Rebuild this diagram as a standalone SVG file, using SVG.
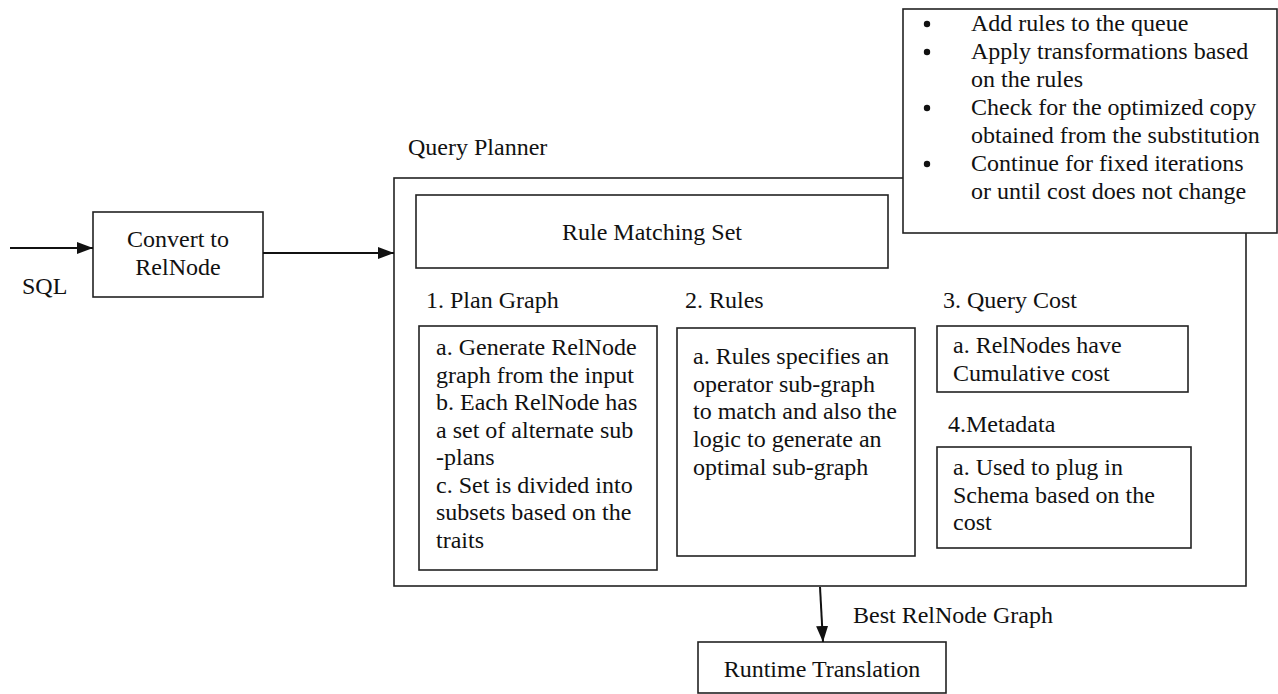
<svg xmlns="http://www.w3.org/2000/svg" width="1278" height="694" viewBox="0 0 1278 694">
<style>
  .box { fill: #fff; stroke: #222; stroke-width: 1.6; }
  .line { stroke: #111; stroke-width: 2; fill: none; }
</style>
<defs>
  <marker id="arr" markerWidth="16" markerHeight="12" refX="16" refY="6" orient="auto" markerUnits="userSpaceOnUse">
    <path d="M0,0 L16,6 L0,12 Z" fill="#111"/>
  </marker>
</defs>
<rect width="1278" height="694" fill="#fff"/>
<g font-family="Liberation Serif, Times New Roman, serif" font-size="24" fill="#111">

<g id="query-planner">
  <text x="408" y="155">Query Planner</text>
  <rect class="box" x="394" y="178" width="852" height="408"/>
</g>

<g id="bullets-box">
  <rect class="box" x="903" y="9" width="374" height="224"/>
  <circle cx="927" cy="24" r="3.2" fill="#111"/>
  <circle cx="927" cy="52" r="3.2" fill="#111"/>
  <circle cx="927" cy="108" r="3.2" fill="#111"/>
  <circle cx="927" cy="164" r="3.2" fill="#111"/>
  <text x="971" y="31">Add rules to the queue</text>
  <text x="971" y="59">Apply transformations based</text>
  <text x="971" y="87">on the rules</text>
  <text x="971" y="115">Check for the optimized copy</text>
  <text x="971" y="143">obtained from the substitution</text>
  <text x="971" y="171">Continue for fixed iterations</text>
  <text x="971" y="199">or until cost does not change</text>
</g>

<g id="convert">
  <rect class="box" x="93" y="212" width="170" height="85"/>
  <text text-anchor="middle" x="178" y="247">Convert to</text>
  <text text-anchor="middle" x="178" y="275">RelNode</text>
</g>

<g id="sql-label">
  <text x="22" y="294">SQL</text>
</g>

<g id="rule-matching">
  <rect class="box" x="416" y="195" width="472" height="73"/>
  <text text-anchor="middle" x="652" y="240">Rule Matching Set</text>
</g>

<g id="plan-graph">
  <text x="426" y="308">1. Plan Graph</text>
  <rect class="box" x="419" y="326" width="238" height="244"/>
  <text x="436" y="355">a. Generate RelNode</text>
  <text x="436" y="383">graph from the input</text>
  <text x="436" y="410">b. Each RelNode has</text>
  <text x="436" y="438">a set of alternate sub</text>
  <text x="436" y="465">-plans</text>
  <text x="436" y="493">c. Set is divided into</text>
  <text x="436" y="520">subsets based on the</text>
  <text x="436" y="548">traits</text>
</g>

<g id="rules">
  <text x="685" y="308">2. Rules</text>
  <rect class="box" x="677" y="328" width="238" height="228"/>
  <text x="693" y="364">a. Rules specifies an</text>
  <text x="693" y="392">operator sub-graph</text>
  <text x="693" y="419">to match and also the</text>
  <text x="693" y="447">logic to generate an</text>
  <text x="693" y="475">optimal sub-graph</text>
</g>

<g id="query-cost">
  <text x="943" y="308">3. Query Cost</text>
  <rect class="box" x="937" y="326" width="251" height="66"/>
  <text x="953" y="353">a. RelNodes have</text>
  <text x="953" y="381">Cumulative cost</text>
</g>

<g id="metadata">
  <text x="948" y="432">4.Metadata</text>
  <rect class="box" x="937" y="447" width="254" height="101"/>
  <text x="953" y="475">a. Used to plug in</text>
  <text x="953" y="503">Schema based on the</text>
  <text x="953" y="530">cost</text>
</g>

<g id="runtime">
  <rect class="box" x="698" y="642" width="248" height="51"/>
  <text text-anchor="middle" x="822" y="677">Runtime Translation</text>
</g>

<g id="connectors">
  <line class="line" x1="10" y1="248" x2="93" y2="248" marker-end="url(#arr)"/>
  <line class="line" x1="263" y1="253" x2="394" y2="253" marker-end="url(#arr)"/>
  <line class="line" x1="820" y1="587" x2="823" y2="642" marker-end="url(#arr)"/>
  <text x="853" y="623">Best RelNode Graph</text>
</g>
</g>
</svg>
